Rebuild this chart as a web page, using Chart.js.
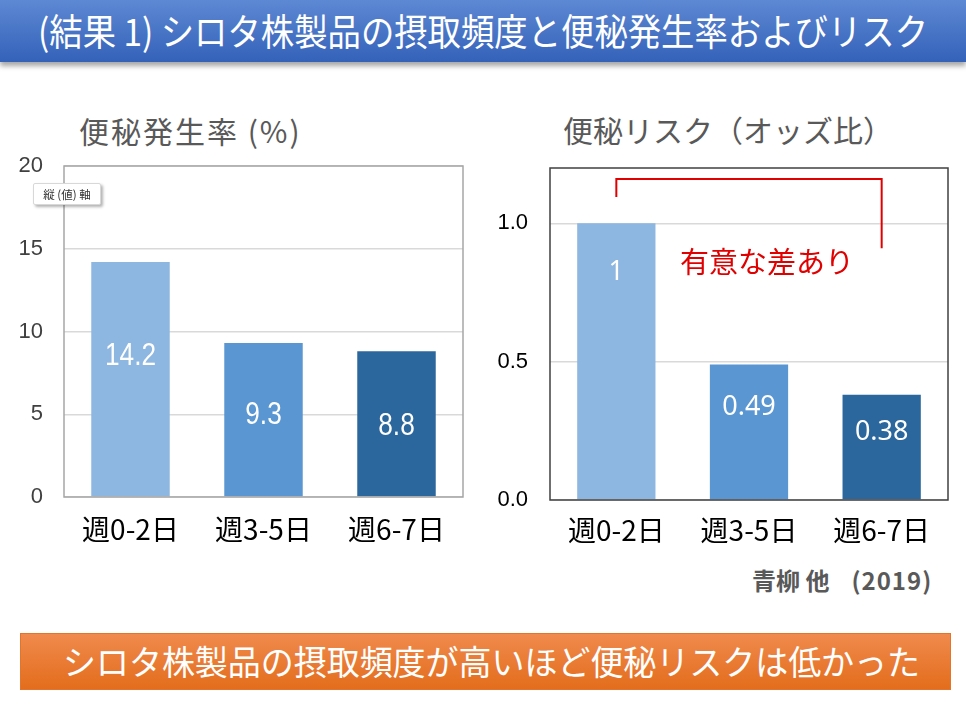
<!DOCTYPE html>
<html lang="ja">
<head>
<meta charset="utf-8">
<script src="https://cdn.jsdelivr.net/npm/chart.js@4.4.0/dist/chart.umd.min.js"></script>
<style>
  html, body { margin: 0; padding: 0; background: #fff; }
  body { width: 966px; height: 726px; position: relative; overflow: hidden; font-family: "Noto Sans CJK JP", sans-serif; }
  .header { position: absolute; left: 0; top: 0; width: 966px; height: 62px;
    background: linear-gradient(#5d88d3, #3462b9); box-shadow: 0 4px 5px rgba(0,0,0,0.35); }
  .fit { position: absolute; white-space: nowrap; color: #fff; transform-origin: 0 50%; }
  #headText { left: 38px; top: 8px; font-size: 37px; line-height: 44px; }
  .banner { position: absolute; left: 20px; top: 633px; width: 929px; height: 55px;
    background: linear-gradient(#f08a4d, #e36d1c); border: 1px solid #e2752a; }
  #bannerText { left: 42px; top: 5px; font-size: 34px; line-height: 44px; }
  .title { position: absolute; color: #595959; font-size: 30px; line-height: 36px; white-space: nowrap; }
  .box { position: absolute; left: 33px; top: 183px; width: 66px; height: 20px; background: #fff;
    border: 1px solid #d8d8d8; border-radius: 2px; box-shadow: 2px 2px 3px rgba(0,0,0,0.3);
    font-size: 11.5px; line-height: 20px; color: #333; text-align: center; }
  .wrap { position: absolute; }
  .note { position: absolute; color: #e00000; font-size: 29px; line-height: 34px; white-space: nowrap; }
  .cite { position: absolute; color: #595959; font-size: 24px; font-weight: bold; line-height: 28px; white-space: nowrap;
    font-family: "Noto Sans CJK JP", sans-serif; }
</style>
</head>
<body>
<div class="header"><div class="fit" id="headText" data-w="890">(結果 1) シロタ株製品の摂取頻度と便秘発生率およびリスク</div></div>

<div class="title" style="left:79px; top:112px; letter-spacing:2px;">便秘発生率 (%)</div>
<div class="title" style="left:563px; top:111px;">便秘リスク（オッズ比）</div>

<div class="wrap" style="left:0; top:150px; width:480px; height:410px;"><canvas id="rateChart"></canvas></div>
<div class="wrap" style="left:480px; top:150px; width:486px; height:410px;"><canvas id="oddsChart"></canvas></div>

<div class="box">縦 (値) 軸</div>
<div class="note" style="left:680px; top:243px;">有意な差あり</div>
<div class="cite" style="left:752px; top:566px;">青柳 他<span style="margin-left:22px; letter-spacing:1px;">(2019)</span></div>

<div class="banner"><div class="fit" id="bannerText" data-w="857">シロタ株製品の摂取頻度が高いほど便秘リスクは低かった</div></div>

<script>
const categories = ["週0-2日", "週3-5日", "週6-7日"];
const rateValues = [14.2, 9.3, 8.8];
const rateLabels = ["14.2", "9.3", "8.8"];
const oddsValues = [1, 0.49, 0.38];
const oddsLabels = ["1", "0.49", "0.38"];
const rateTicks = [0, 5, 10, 15, 20];
const oddsTicks = [0, 0.5, 1.0];
const barColors = ["#8db6e0", "#5a97d2", "#2b669c"];

// squeeze the banner texts to the width they have on the slide
document.querySelectorAll(".fit").forEach(el => {
  const w = el.getBoundingClientRect().width;
  el.style.transform = "scaleX(" + (el.dataset.w / w) + ")";
});

// frame round the plot area
const framePlugin = {
  id: "frame",
  afterDraw(chart, args, opts) {
    const a = chart.chartArea, ctx = chart.ctx;
    ctx.save();
    ctx.strokeStyle = opts.color;
    ctx.lineWidth = 1.5;
    ctx.strokeRect(a.left, a.top, a.right - a.left, a.bottom - a.top);
    ctx.restore();
  }
};

// value labels inside the bars
const valuePlugin = {
  id: "values",
  afterDatasetsDraw(chart, args, opts) {
    const ctx = chart.ctx, x = chart.scales.x, y = chart.scales.y;
    ctx.fillStyle = "#fff";
    ctx.font = opts.font;
    ctx.textAlign = "center";
    ctx.textBaseline = "middle";
    opts.labels.forEach((t, i) => {
      ctx.save();
      ctx.translate(x.getPixelForValue(i), y.getPixelForValue(opts.at[i]));
      ctx.scale(opts.squeeze, 1);
      ctx.fillText(t, 0, 0);
      ctx.restore();
    });
  }
};

// red bracket between first and last bar
const bracketPlugin = {
  id: "bracket",
  afterDraw(chart, args, opts) {
    if (!opts.show) return;
    const ctx = chart.ctx, x = chart.scales.x, y = chart.scales.y;
    ctx.save();
    ctx.strokeStyle = "#e00000";
    ctx.lineWidth = 2;
    ctx.beginPath();
    ctx.moveTo(x.getPixelForValue(opts.from), y.getPixelForValue(opts.leftEnd));
    ctx.lineTo(x.getPixelForValue(opts.from), y.getPixelForValue(opts.top));
    ctx.lineTo(x.getPixelForValue(opts.to), y.getPixelForValue(opts.top));
    ctx.lineTo(x.getPixelForValue(opts.to), y.getPixelForValue(opts.rightEnd));
    ctx.stroke();
    ctx.restore();
  }
};

function makeChart(canvas, values, labels, cfg) {
  return new Chart(canvas, {
    type: "bar",
    data: {
      labels: categories,
      datasets: [{
        data: values,
        backgroundColor: barColors,
        barPercentage: 0.59,
        categoryPercentage: 1
      }]
    },
    options: {
      responsive: true,
      maintainAspectRatio: false,
      animation: false,
      layout: { padding: cfg.padding },
      plugins: {
        legend: { display: false },
        tooltip: { enabled: false },
        frame: { color: cfg.frame },
        values: { labels: labels, at: cfg.labelAt, font: cfg.valueFont, squeeze: cfg.squeeze },
        bracket: cfg.bracket || { show: false }
      },
      scales: {
        x: {
          grid: { display: false },
          border: { display: false },
          afterFit: s => { s.height = cfg.xHeight; s.paddingLeft = 0; s.paddingRight = 0; },
          ticks: {
            color: "#000",
            padding: cfg.xPad,
            font: { family: "Noto Sans CJK JP", size: 28 }
          }
        },
        y: {
          min: cfg.ticks[0],
          max: cfg.max,
          afterFit: s => { s.width = cfg.yWidth; s.paddingTop = 0; s.paddingBottom = 0; },
          afterBuildTicks: s => { s.ticks = cfg.ticks.map(v => ({ value: v })); },
          border: { display: false },
          grid: { color: "#d9d9d9", lineWidth: 1.5, drawTicks: false },
          ticks: {
            color: cfg.tickColor,
            padding: cfg.yPad,
            font: { family: "Liberation Sans", size: 22 },
            callback: cfg.fmt
          }
        }
      }
    },
    plugins: [framePlugin, valuePlugin, bracketPlugin]
  });
}

makeChart(document.getElementById("rateChart"), rateValues, rateLabels, {
  padding: { top: 16, right: 17, left: 0, bottom: 0 },
  xHeight: 63, yWidth: 64, xPad: 8, yPad: 21,
  ticks: rateTicks, max: 20,
  frame: "#a6a6a6", tickColor: "#404040",
  labelAt: [8.5, 4.95, 4.3],
  valueFont: "32px 'Liberation Sans', sans-serif", squeeze: 0.82,
  fmt: v => String(v)
});

makeChart(document.getElementById("oddsChart"), oddsValues, oddsLabels, {
  padding: { top: 18, right: 18, left: 0, bottom: 0 },
  xHeight: 60, yWidth: 70, xPad: 6, yPad: 22,
  ticks: oddsTicks, max: 1.2,
  frame: "#404040", tickColor: "#000",
  labelAt: [0.824, 0.336, 0.246],
  valueFont: "27px 'Noto Sans', sans-serif", squeeze: 1,
  fmt: v => v.toFixed(1),
  bracket: { show: true, from: 0, to: 2, top: 1.16, leftEnd: 1.095, rightEnd: 0.91 }
});
</script>
</body>
</html>
